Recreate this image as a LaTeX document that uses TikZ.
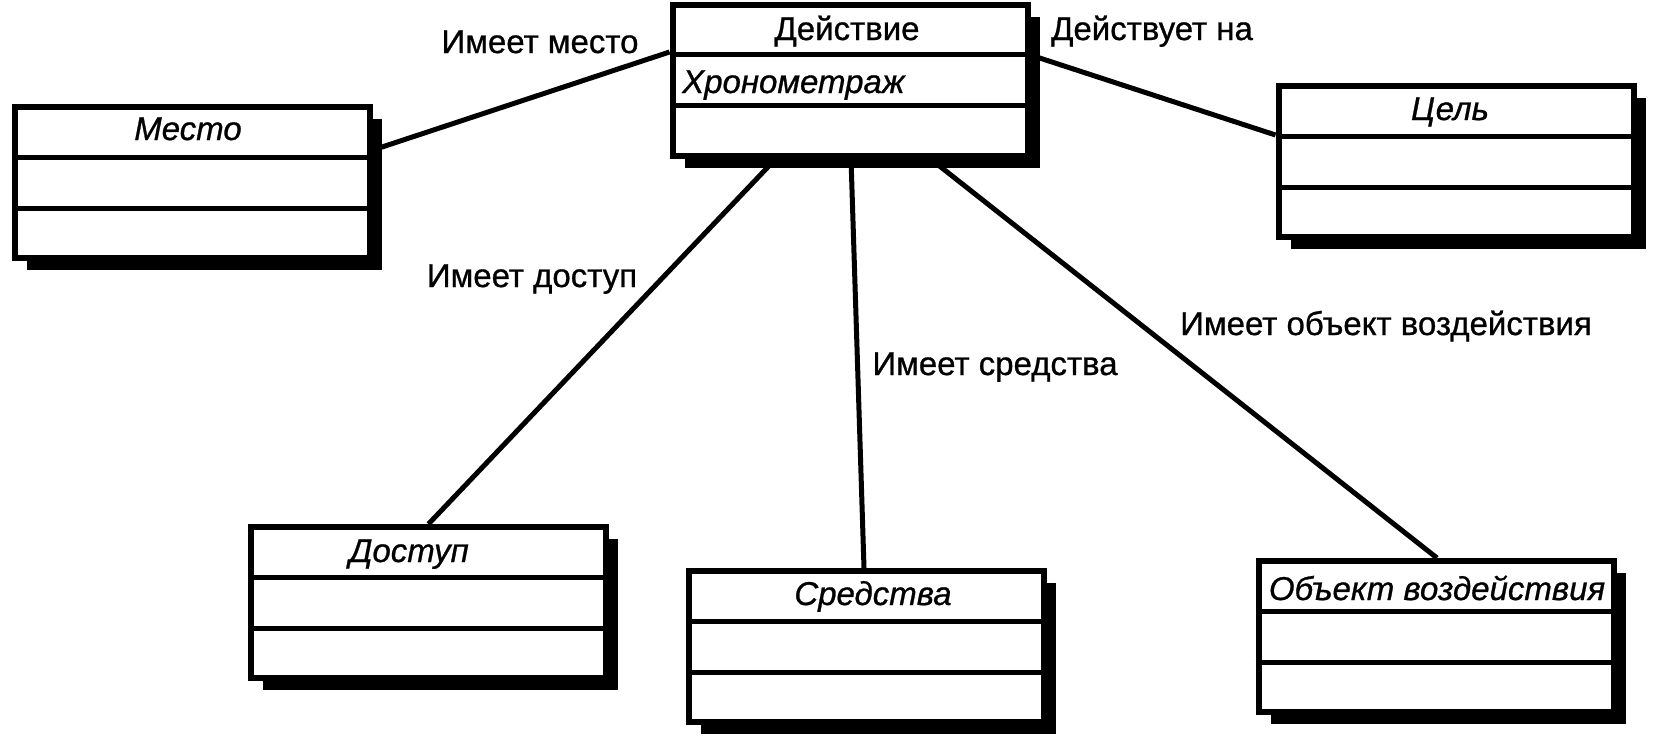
\documentclass[tikz,border=0pt]{standalone}
\usepackage{fontspec}
\setmainfont{Liberation Sans}[UprightFeatures={FakeBold=0.8}, ItalicFeatures={FakeBold=0.8}]
\usetikzlibrary{shadows,calc}
\pgfdeclarelayer{bg}
\pgfsetlayers{bg,main}
\begin{document}
\begin{tikzpicture}[x=1pt,y=-1pt,
  cls/.style={draw, line width=6pt, minimum width=355pt, minimum height=151pt, fill=white, inner sep=0pt,
    drop shadow={shadow xshift=12pt, shadow yshift=-12pt, fill=black, opacity=1}},
  txt/.style={inner sep=0pt, anchor=base, font=\fontsize{33}{40}\selectfont},
  itxt/.style={txt, font=\fontsize{33}{40}\selectfont\itshape},
  link/.style={line width=5pt},
  sep/.style={line width=5pt}]
\useasboundingbox (0,0) rectangle (1654,742);
% class boxes
\node[cls] (act) at (850,80) {};
\node[cls] (mesto) at (192.5,182.5) {};
\node[cls] (cel) at (1456,161.5) {};
\node[cls] (dost) at (428.5,602.5) {};
\node[cls] (sredstva) at (866,646.5) {};
\node[cls] (obj) at (1436,636.5) {};
\foreach \n in {act,mesto,cel,dost,sredstva,obj}{
  \draw[sep] ([yshift=25.5pt]\n.west) -- ([yshift=25.5pt]\n.east);
  \draw[sep] ([yshift=-25.5pt]\n.west) -- ([yshift=-25.5pt]\n.east);
}
% class texts
\node[txt] (tact) at (847,40) {Действие};
\node[itxt, anchor=base west] (tchron) at (682,93) {Хронометраж};
\node[itxt] (tmesto) at (188,140) {Место};
\node[itxt] (tcel) at (1450,120) {Цель};
\node[itxt] (tdost) at (409,562) {Доступ};
\node[itxt] (tsr) at (873,605) {Средства};
\node[itxt] (tobj) at (1437,600) {Объект воздействия};
% association labels
\node[txt] (l1) at (540,53) {Имеет место};
\node[txt] (l2) at (1152,40) {Действует на};
\node[txt] (l3) at (532,287) {Имеет доступ};
\node[txt] (l4) at (995,375) {Имеет средства};
\node[txt] (l5) at (1386,335) {Имеет объект воздействия};
% connectors
\begin{pgfonlayer}{bg}
\draw[link] ([yshift=32.5pt]mesto.east) -- ([yshift=28pt]act.west);
\draw[link] ([yshift=25pt]act.east) -- ([yshift=26.5pt]cel.west);
\draw[link] ([xshift=-74pt]act.south) -- (dost.north);
\draw[link] ([xshift=1pt]act.south) -- ([xshift=-2pt]sredstva.north);
\draw[link] ([xshift=80pt]act.south) -- ([xshift=1pt]obj.north);
\end{pgfonlayer}
\end{tikzpicture}
\end{document}
